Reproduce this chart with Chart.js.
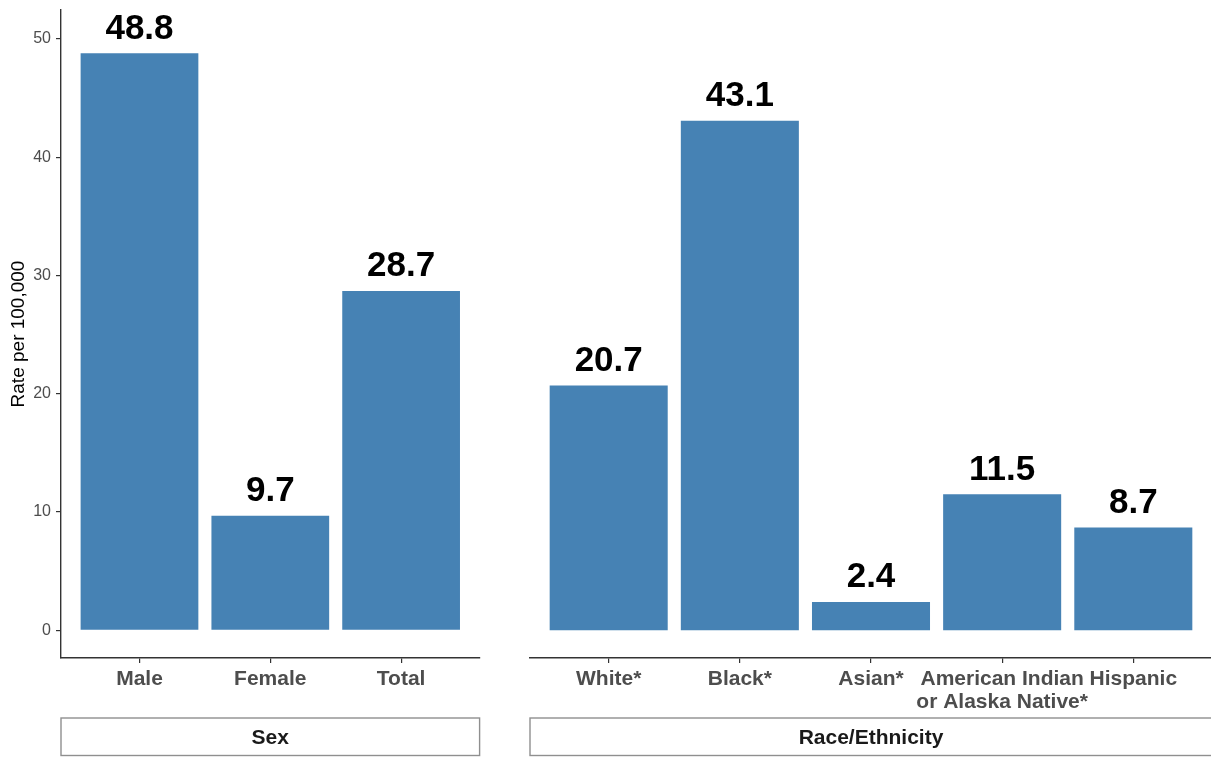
<!DOCTYPE html>
<html><head><meta charset="utf-8">
<script src="https://cdn.jsdelivr.net/npm/chart.js@4"></script>
<style>
html,body{margin:0;padding:0;background:#fff;overflow:hidden;width:1211px;height:757px;position:relative;}
#c1{position:absolute;left:0;top:0;}
#c2{position:absolute;left:490px;top:0;}
</style></head><body>
<canvas id="c1" width="490" height="757"></canvas>
<canvas id="c2" width="722" height="757"></canvas>
<script>
// ---- data ----
const sexCategories = ['Male', 'Female', 'Total'];
const sexRates = [48.8, 9.7, 28.7];
const raceCategories = ['White*', 'Black*', 'Asian*', ['American Indian', 'or Alaska Native*'], 'Hispanic'];
const raceRates = [20.7, 43.1, 2.4, 11.5, 8.7];
const yTickValues = [0, 10, 20, 30, 40, 50];
const panelTitles = ['Sex', 'Race/Ethnicity'];
const yAxisTitle = 'Rate per 100,000';

// ---- styles ----
const BAR = '#4682B4';
const AXIS = '#333333';
const TICKTXT = '#4d4d4d';
const FONT = "'Liberation Sans', Arial, sans-serif";
const Y_MIN = -2.34, Y_MAX = 52.46;

const valueLabels = {
  id: 'valueLabels',
  afterDatasetsDraw(chart) {
    const ctx = chart.ctx;
    const ds = chart.data.datasets[0];
    const meta = chart.getDatasetMeta(0);
    ctx.save();
    ctx.font = "bold 35px " + FONT;
    ctx.fillStyle = '#000';
    ctx.textAlign = 'center';
    ctx.textBaseline = 'alphabetic';
    meta.data.forEach((el, i) => {
      ctx.fillText(ds.data[i].y.toFixed(1), el.x, el.y - 14.5);
    });
    ctx.restore();
  }
};

const strip = {
  id: 'strip',
  afterDraw(chart, args, opts) {
    const ctx = chart.ctx;
    const a = chart.chartArea;
    ctx.save();
    ctx.strokeStyle = '#8f8f8f';
    ctx.lineWidth = 1.4;
    ctx.fillStyle = '#fff';
    const top = 718, h = 37.5;
    ctx.fillRect(a.left, top, a.right - a.left, h);
    ctx.strokeRect(a.left, top, a.right - a.left, h);
    ctx.fillStyle = '#1a1a1a';
    ctx.font = "bold 21px " + FONT;
    ctx.textAlign = 'center';
    ctx.textBaseline = 'middle';
    ctx.fillText(opts.text, (a.left + a.right) / 2, top + h / 2 + 1);
    ctx.restore();
  }
};

function makeChart(id, cats, vals, title, showY, padding) {
  const n = cats.length;
  return new Chart(document.getElementById(id), {
    type: 'bar',
    data: {
      datasets: [{
        data: vals.map((v, i) => ({ x: i, y: v })),
        backgroundColor: BAR,
        borderWidth: 0,
        barPercentage: 0.9,
        categoryPercentage: 1.0
      }]
    },
    options: {
      responsive: false,
      animation: false,
      devicePixelRatio: 1,
      layout: { padding: padding },
      plugins: {
        legend: { display: false },
        tooltip: { enabled: false },
        strip: { text: title }
      },
      scales: {
        x: {
          type: 'linear',
          min: -0.6,
          max: n - 1 + 0.6,
          offset: false,
          afterFit: s => { s.height = 99; s.paddingLeft = 0; s.paddingRight = 0; },
          afterBuildTicks: s => { s.ticks = cats.map((c, i) => ({ value: i })); },
          border: { display: true, color: AXIS, width: 1.4 },
          grid: { display: true, offset: false, drawOnChartArea: false, drawTicks: true, tickLength: 5, color: AXIS, lineWidth: 1.2 },
          ticks: {
            autoSkip: false,
            maxRotation: 0,
            minRotation: 0,
            padding: 5,
            color: TICKTXT,
            font: { family: FONT, size: 21, weight: 'bold', lineHeight: 1.1 },
            callback: v => cats[v]
          }
        },
        y: {
          display: showY,
          min: Y_MIN,
          max: Y_MAX,
          afterFit: s => { s.width = showY ? 61 : 0; s.paddingTop = 0; s.paddingBottom = 0; },
          afterBuildTicks: s => { s.ticks = yTickValues.map(v => ({ value: v })); },
          border: { display: true, color: AXIS, width: 1.4 },
          grid: { display: true, drawOnChartArea: false, drawTicks: true, tickLength: 5, color: AXIS, lineWidth: 1.2 },
          ticks: {
            padding: 5,
            color: TICKTXT,
            font: { family: FONT, size: 16 }
          },
          title: {
            display: true,
            text: yAxisTitle,
            color: '#000',
            font: { family: FONT, size: 19 },
            padding: { top: 7, bottom: 0 }
          }
        }
      }
    },
    plugins: [valueLabels, strip]
  });
}

makeChart('c1', sexCategories, sexRates, panelTitles[0], true, { left: 0, top: 10, right: 10.4, bottom: 0 });
makeChart('c2', raceCategories, raceRates, panelTitles[1], false, { left: 40, top: 10, right: 0, bottom: 0 });
</script>
</body></html>
